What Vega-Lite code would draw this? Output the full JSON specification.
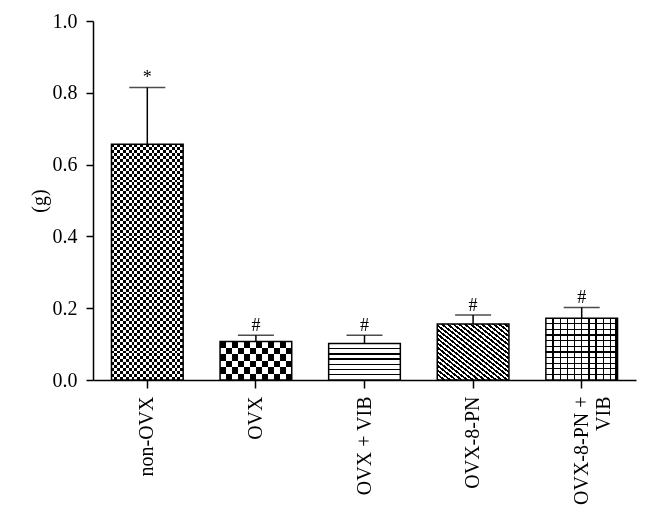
{
  "$schema": "https://vega.github.io/schema/vega-lite/v6.json",
  "width": 543,
  "height": 359,
  "autosize": {"type": "none"},
  "padding": {"left": 93, "top": 21, "right": 14, "bottom": 146},
  "background": "white",
  "data": {"values": [
    {"group": "non-OVX", "value": 0.657, "err": 0.815, "sig": "*"},
    {"group": "OVX", "value": 0.107, "err": 0.125, "sig": "#"},
    {"group": "OVX + VIB", "value": 0.102, "err": 0.125, "sig": "#"},
    {"group": "OVX-8-PN", "value": 0.156, "err": 0.181, "sig": "#"},
    {"group": "OVX-8-PN + VIB", "value": 0.172, "err": 0.202, "sig": "#"}
  ]},
  "encoding": {
    "x": {
      "field": "group", "type": "nominal", "sort": null,
      "scale": {"paddingInner": 0.34, "paddingOuter": 0.17},
      "axis": {
        "title": null, "labelAngle": -90, "labelPadding": 8, "labelLineHeight": 22, "tickSize": 8,
        "labelExpr": "datum.value == 'OVX-8-PN + VIB' ? ['OVX-8-PN +', 'VIB'] : datum.value"
      }
    }
  },
  "layer": [
    {
      "transform": [{"filter": "datum.group === 'non-OVX'"}],
      "mark": {"type": "bar", "fill": {"gradient": "linear", "x1": 0, "y1": 0, "x2": 1, "y2": 0, "stops": [
        {"offset":0,"color":"black"},{"offset":0.04,"color":"black"},{"offset":0.04,"color":"white"},{"offset":0.08,"color":"white"},
        {"offset":0.08,"color":"black"},{"offset":0.12,"color":"black"},{"offset":0.12,"color":"white"},{"offset":0.16,"color":"white"},
        {"offset":0.16,"color":"black"},{"offset":0.2,"color":"black"},{"offset":0.2,"color":"white"},{"offset":0.24,"color":"white"},
        {"offset":0.24,"color":"black"},{"offset":0.28,"color":"black"},{"offset":0.28,"color":"white"},{"offset":0.32,"color":"white"},
        {"offset":0.32,"color":"black"},{"offset":0.36,"color":"black"},{"offset":0.36,"color":"white"},{"offset":0.4,"color":"white"},
        {"offset":0.4,"color":"black"},{"offset":0.44,"color":"black"},{"offset":0.44,"color":"white"},{"offset":0.48,"color":"white"},
        {"offset":0.48,"color":"black"},{"offset":0.52,"color":"black"},{"offset":0.52,"color":"white"},{"offset":0.56,"color":"white"},
        {"offset":0.56,"color":"black"},{"offset":0.6,"color":"black"},{"offset":0.6,"color":"white"},{"offset":0.64,"color":"white"},
        {"offset":0.64,"color":"black"},{"offset":0.68,"color":"black"},{"offset":0.68,"color":"white"},{"offset":0.72,"color":"white"},
        {"offset":0.72,"color":"black"},{"offset":0.76,"color":"black"},{"offset":0.76,"color":"white"},{"offset":0.8,"color":"white"},
        {"offset":0.8,"color":"black"},{"offset":0.84,"color":"black"},{"offset":0.84,"color":"white"},{"offset":0.88,"color":"white"},
        {"offset":0.88,"color":"black"},{"offset":0.92,"color":"black"},{"offset":0.92,"color":"white"},{"offset":0.96,"color":"white"},
        {"offset":0.96,"color":"black"},{"offset":1,"color":"black"}
      ]}},
      "encoding": {"y": {"field": "value", "type": "quantitative"}}
    },
    {
      "transform": [{"filter": "datum.group === 'non-OVX'"}],
      "mark": {"type": "bar", "blend": "difference", "fill": {"gradient": "linear", "x1": 0, "y1": 0, "x2": 0, "y2": 1, "stops": [
        {"offset":0,"color":"transparent"},
        {"offset":0.0125,"color":"transparent"},{"offset":0.0125,"color":"white"},{"offset":0.025,"color":"white"},{"offset":0.025,"color":"transparent"},
        {"offset":0.0375,"color":"transparent"},{"offset":0.0375,"color":"white"},{"offset":0.05,"color":"white"},{"offset":0.05,"color":"transparent"},
        {"offset":0.0625,"color":"transparent"},{"offset":0.0625,"color":"white"},{"offset":0.075,"color":"white"},{"offset":0.075,"color":"transparent"},
        {"offset":0.0875,"color":"transparent"},{"offset":0.0875,"color":"white"},{"offset":0.1,"color":"white"},{"offset":0.1,"color":"transparent"},
        {"offset":0.1125,"color":"transparent"},{"offset":0.1125,"color":"white"},{"offset":0.125,"color":"white"},{"offset":0.125,"color":"transparent"},
        {"offset":0.1375,"color":"transparent"},{"offset":0.1375,"color":"white"},{"offset":0.15,"color":"white"},{"offset":0.15,"color":"transparent"},
        {"offset":0.1625,"color":"transparent"},{"offset":0.1625,"color":"white"},{"offset":0.175,"color":"white"},{"offset":0.175,"color":"transparent"},
        {"offset":0.1875,"color":"transparent"},{"offset":0.1875,"color":"white"},{"offset":0.2,"color":"white"},{"offset":0.2,"color":"transparent"},
        {"offset":0.2125,"color":"transparent"},{"offset":0.2125,"color":"white"},{"offset":0.225,"color":"white"},{"offset":0.225,"color":"transparent"},
        {"offset":0.2375,"color":"transparent"},{"offset":0.2375,"color":"white"},{"offset":0.25,"color":"white"},{"offset":0.25,"color":"transparent"},
        {"offset":0.2625,"color":"transparent"},{"offset":0.2625,"color":"white"},{"offset":0.275,"color":"white"},{"offset":0.275,"color":"transparent"},
        {"offset":0.2875,"color":"transparent"},{"offset":0.2875,"color":"white"},{"offset":0.3,"color":"white"},{"offset":0.3,"color":"transparent"},
        {"offset":0.3125,"color":"transparent"},{"offset":0.3125,"color":"white"},{"offset":0.325,"color":"white"},{"offset":0.325,"color":"transparent"},
        {"offset":0.3375,"color":"transparent"},{"offset":0.3375,"color":"white"},{"offset":0.35,"color":"white"},{"offset":0.35,"color":"transparent"},
        {"offset":0.3625,"color":"transparent"},{"offset":0.3625,"color":"white"},{"offset":0.375,"color":"white"},{"offset":0.375,"color":"transparent"},
        {"offset":0.3875,"color":"transparent"},{"offset":0.3875,"color":"white"},{"offset":0.4,"color":"white"},{"offset":0.4,"color":"transparent"},
        {"offset":0.4125,"color":"transparent"},{"offset":0.4125,"color":"white"},{"offset":0.425,"color":"white"},{"offset":0.425,"color":"transparent"},
        {"offset":0.4375,"color":"transparent"},{"offset":0.4375,"color":"white"},{"offset":0.45,"color":"white"},{"offset":0.45,"color":"transparent"},
        {"offset":0.4625,"color":"transparent"},{"offset":0.4625,"color":"white"},{"offset":0.475,"color":"white"},{"offset":0.475,"color":"transparent"},
        {"offset":0.4875,"color":"transparent"},{"offset":0.4875,"color":"white"},{"offset":0.5,"color":"white"},{"offset":0.5,"color":"transparent"},
        {"offset":0.5125,"color":"transparent"},{"offset":0.5125,"color":"white"},{"offset":0.525,"color":"white"},{"offset":0.525,"color":"transparent"},
        {"offset":0.5375,"color":"transparent"},{"offset":0.5375,"color":"white"},{"offset":0.55,"color":"white"},{"offset":0.55,"color":"transparent"},
        {"offset":0.5625,"color":"transparent"},{"offset":0.5625,"color":"white"},{"offset":0.575,"color":"white"},{"offset":0.575,"color":"transparent"},
        {"offset":0.5875,"color":"transparent"},{"offset":0.5875,"color":"white"},{"offset":0.6,"color":"white"},{"offset":0.6,"color":"transparent"},
        {"offset":0.6125,"color":"transparent"},{"offset":0.6125,"color":"white"},{"offset":0.625,"color":"white"},{"offset":0.625,"color":"transparent"},
        {"offset":0.6375,"color":"transparent"},{"offset":0.6375,"color":"white"},{"offset":0.65,"color":"white"},{"offset":0.65,"color":"transparent"},
        {"offset":0.6625,"color":"transparent"},{"offset":0.6625,"color":"white"},{"offset":0.675,"color":"white"},{"offset":0.675,"color":"transparent"},
        {"offset":0.6875,"color":"transparent"},{"offset":0.6875,"color":"white"},{"offset":0.7,"color":"white"},{"offset":0.7,"color":"transparent"},
        {"offset":0.7125,"color":"transparent"},{"offset":0.7125,"color":"white"},{"offset":0.725,"color":"white"},{"offset":0.725,"color":"transparent"},
        {"offset":0.7375,"color":"transparent"},{"offset":0.7375,"color":"white"},{"offset":0.75,"color":"white"},{"offset":0.75,"color":"transparent"},
        {"offset":0.7625,"color":"transparent"},{"offset":0.7625,"color":"white"},{"offset":0.775,"color":"white"},{"offset":0.775,"color":"transparent"},
        {"offset":0.7875,"color":"transparent"},{"offset":0.7875,"color":"white"},{"offset":0.8,"color":"white"},{"offset":0.8,"color":"transparent"},
        {"offset":0.8125,"color":"transparent"},{"offset":0.8125,"color":"white"},{"offset":0.825,"color":"white"},{"offset":0.825,"color":"transparent"},
        {"offset":0.8375,"color":"transparent"},{"offset":0.8375,"color":"white"},{"offset":0.85,"color":"white"},{"offset":0.85,"color":"transparent"},
        {"offset":0.8625,"color":"transparent"},{"offset":0.8625,"color":"white"},{"offset":0.875,"color":"white"},{"offset":0.875,"color":"transparent"},
        {"offset":0.8875,"color":"transparent"},{"offset":0.8875,"color":"white"},{"offset":0.9,"color":"white"},{"offset":0.9,"color":"transparent"},
        {"offset":0.9125,"color":"transparent"},{"offset":0.9125,"color":"white"},{"offset":0.925,"color":"white"},{"offset":0.925,"color":"transparent"},
        {"offset":0.9375,"color":"transparent"},{"offset":0.9375,"color":"white"},{"offset":0.95,"color":"white"},{"offset":0.95,"color":"transparent"},
        {"offset":0.9625,"color":"transparent"},{"offset":0.9625,"color":"white"},{"offset":0.975,"color":"white"},{"offset":0.975,"color":"transparent"},
        {"offset":0.9875,"color":"transparent"},{"offset":0.9875,"color":"white"},{"offset":1,"color":"white"}
      ]}},
      "encoding": {"y": {"field": "value", "type": "quantitative"}}
    },
    {
      "transform": [{"filter": "datum.group === 'OVX'"}],
      "mark": {"type": "bar", "fill": {"gradient": "linear", "x1": 0, "y1": 0, "x2": 1, "y2": 0, "stops": [
        {"offset":0,"color":"black"},{"offset":0.0833,"color":"black"},{"offset":0.0833,"color":"white"},{"offset":0.1667,"color":"white"},
        {"offset":0.1667,"color":"black"},{"offset":0.25,"color":"black"},{"offset":0.25,"color":"white"},{"offset":0.3333,"color":"white"},
        {"offset":0.3333,"color":"black"},{"offset":0.4167,"color":"black"},{"offset":0.4167,"color":"white"},{"offset":0.5,"color":"white"},
        {"offset":0.5,"color":"black"},{"offset":0.5833,"color":"black"},{"offset":0.5833,"color":"white"},{"offset":0.6667,"color":"white"},
        {"offset":0.6667,"color":"black"},{"offset":0.75,"color":"black"},{"offset":0.75,"color":"white"},{"offset":0.8333,"color":"white"},
        {"offset":0.8333,"color":"black"},{"offset":0.9167,"color":"black"},{"offset":0.9167,"color":"white"},{"offset":1,"color":"white"}
      ]}},
      "encoding": {"y": {"field": "value", "type": "quantitative"}}
    },
    {
      "transform": [{"filter": "datum.group === 'OVX'"}],
      "mark": {"type": "bar", "blend": "difference", "fill": {"gradient": "linear", "x1": 0, "y1": 0, "x2": 0, "y2": 1, "stops": [
        {"offset":0,"color":"transparent"},{"offset":0.1667,"color":"transparent"},{"offset":0.1667,"color":"white"},{"offset":0.3333,"color":"white"},
        {"offset":0.3333,"color":"transparent"},{"offset":0.5,"color":"transparent"},{"offset":0.5,"color":"white"},{"offset":0.6667,"color":"white"},
        {"offset":0.6667,"color":"transparent"},{"offset":0.8333,"color":"transparent"},{"offset":0.8333,"color":"white"},{"offset":1,"color":"white"}
      ]}},
      "encoding": {"y": {"field": "value", "type": "quantitative"}}
    },
    {
      "transform": [{"filter": "datum.group === 'OVX + VIB'"}],
      "mark": {"type": "bar", "fill": {"gradient": "linear", "x1": 0, "y1": 0, "x2": 0, "y2": 1, "stops": [
        {"offset":0,"color":"white"},{"offset":0.125,"color":"white"},{"offset":0.125,"color":"black"},{"offset":0.161,"color":"black"},
        {"offset":0.161,"color":"white"},{"offset":0.268,"color":"white"},{"offset":0.268,"color":"black"},{"offset":0.304,"color":"black"},
        {"offset":0.304,"color":"white"},{"offset":0.411,"color":"white"},{"offset":0.411,"color":"black"},{"offset":0.447,"color":"black"},
        {"offset":0.447,"color":"white"},{"offset":0.554,"color":"white"},{"offset":0.554,"color":"black"},{"offset":0.589,"color":"black"},
        {"offset":0.589,"color":"white"},{"offset":0.696,"color":"white"},{"offset":0.696,"color":"black"},{"offset":0.732,"color":"black"},
        {"offset":0.732,"color":"white"},{"offset":0.839,"color":"white"},{"offset":0.839,"color":"black"},{"offset":0.875,"color":"black"},
        {"offset":0.875,"color":"white"},{"offset":1,"color":"white"}
      ]}},
      "encoding": {"y": {"field": "value", "type": "quantitative"}}
    },
    {
      "transform": [{"filter": "datum.group === 'OVX-8-PN'"}],
      "mark": {"type": "bar", "fill": {"gradient": "linear", "x1": 0, "y1": 1, "x2": 1, "y2": 0, "stops": [
        {"offset":0,"color":"black"},{"offset":0.02,"color":"black"},{"offset":0.02,"color":"white"},{"offset":0.04,"color":"white"},
        {"offset":0.04,"color":"black"},{"offset":0.06,"color":"black"},{"offset":0.06,"color":"white"},{"offset":0.08,"color":"white"},
        {"offset":0.08,"color":"black"},{"offset":0.1,"color":"black"},{"offset":0.1,"color":"white"},{"offset":0.12,"color":"white"},
        {"offset":0.12,"color":"black"},{"offset":0.14,"color":"black"},{"offset":0.14,"color":"white"},{"offset":0.16,"color":"white"},
        {"offset":0.16,"color":"black"},{"offset":0.18,"color":"black"},{"offset":0.18,"color":"white"},{"offset":0.2,"color":"white"},
        {"offset":0.2,"color":"black"},{"offset":0.22,"color":"black"},{"offset":0.22,"color":"white"},{"offset":0.24,"color":"white"},
        {"offset":0.24,"color":"black"},{"offset":0.26,"color":"black"},{"offset":0.26,"color":"white"},{"offset":0.28,"color":"white"},
        {"offset":0.28,"color":"black"},{"offset":0.3,"color":"black"},{"offset":0.3,"color":"white"},{"offset":0.32,"color":"white"},
        {"offset":0.32,"color":"black"},{"offset":0.34,"color":"black"},{"offset":0.34,"color":"white"},{"offset":0.36,"color":"white"},
        {"offset":0.36,"color":"black"},{"offset":0.38,"color":"black"},{"offset":0.38,"color":"white"},{"offset":0.4,"color":"white"},
        {"offset":0.4,"color":"black"},{"offset":0.42,"color":"black"},{"offset":0.42,"color":"white"},{"offset":0.44,"color":"white"},
        {"offset":0.44,"color":"black"},{"offset":0.46,"color":"black"},{"offset":0.46,"color":"white"},{"offset":0.48,"color":"white"},
        {"offset":0.48,"color":"black"},{"offset":0.5,"color":"black"},{"offset":0.5,"color":"white"},{"offset":0.52,"color":"white"},
        {"offset":0.52,"color":"black"},{"offset":0.54,"color":"black"},{"offset":0.54,"color":"white"},{"offset":0.56,"color":"white"},
        {"offset":0.56,"color":"black"},{"offset":0.58,"color":"black"},{"offset":0.58,"color":"white"},{"offset":0.6,"color":"white"},
        {"offset":0.6,"color":"black"},{"offset":0.62,"color":"black"},{"offset":0.62,"color":"white"},{"offset":0.64,"color":"white"},
        {"offset":0.64,"color":"black"},{"offset":0.66,"color":"black"},{"offset":0.66,"color":"white"},{"offset":0.68,"color":"white"},
        {"offset":0.68,"color":"black"},{"offset":0.7,"color":"black"},{"offset":0.7,"color":"white"},{"offset":0.72,"color":"white"},
        {"offset":0.72,"color":"black"},{"offset":0.74,"color":"black"},{"offset":0.74,"color":"white"},{"offset":0.76,"color":"white"},
        {"offset":0.76,"color":"black"},{"offset":0.78,"color":"black"},{"offset":0.78,"color":"white"},{"offset":0.8,"color":"white"},
        {"offset":0.8,"color":"black"},{"offset":0.82,"color":"black"},{"offset":0.82,"color":"white"},{"offset":0.84,"color":"white"},
        {"offset":0.84,"color":"black"},{"offset":0.86,"color":"black"},{"offset":0.86,"color":"white"},{"offset":0.88,"color":"white"},
        {"offset":0.88,"color":"black"},{"offset":0.9,"color":"black"},{"offset":0.9,"color":"white"},{"offset":0.92,"color":"white"},
        {"offset":0.92,"color":"black"},{"offset":0.94,"color":"black"},{"offset":0.94,"color":"white"},{"offset":0.96,"color":"white"},
        {"offset":0.96,"color":"black"},{"offset":0.98,"color":"black"},{"offset":0.98,"color":"white"},{"offset":1,"color":"white"}
      ]}},
      "encoding": {"y": {"field": "value", "type": "quantitative"}}
    },
    {
      "transform": [{"filter": "datum.group === 'OVX-8-PN + VIB'"}],
      "mark": {"type": "bar", "fill": {"gradient": "linear", "x1": 0, "y1": 0, "x2": 1, "y2": 0, "stops": [
        {"offset":0,"color":"white"},{"offset":0.091,"color":"white"},{"offset":0.091,"color":"black"},{"offset":0.109,"color":"black"},
        {"offset":0.109,"color":"white"},{"offset":0.191,"color":"white"},{"offset":0.191,"color":"black"},{"offset":0.209,"color":"black"},
        {"offset":0.209,"color":"white"},{"offset":0.291,"color":"white"},{"offset":0.291,"color":"black"},{"offset":0.309,"color":"black"},
        {"offset":0.309,"color":"white"},{"offset":0.391,"color":"white"},{"offset":0.391,"color":"black"},{"offset":0.409,"color":"black"},
        {"offset":0.409,"color":"white"},{"offset":0.491,"color":"white"},{"offset":0.491,"color":"black"},{"offset":0.509,"color":"black"},
        {"offset":0.509,"color":"white"},{"offset":0.591,"color":"white"},{"offset":0.591,"color":"black"},{"offset":0.609,"color":"black"},
        {"offset":0.609,"color":"white"},{"offset":0.691,"color":"white"},{"offset":0.691,"color":"black"},{"offset":0.709,"color":"black"},
        {"offset":0.709,"color":"white"},{"offset":0.791,"color":"white"},{"offset":0.791,"color":"black"},{"offset":0.809,"color":"black"},
        {"offset":0.809,"color":"white"},{"offset":0.891,"color":"white"},{"offset":0.891,"color":"black"},{"offset":0.909,"color":"black"},
        {"offset":0.909,"color":"white"},{"offset":0.97,"color":"white"},{"offset":0.97,"color":"black"},{"offset":1,"color":"black"}
      ]}},
      "encoding": {"y": {"field": "value", "type": "quantitative"}}
    },
    {
      "transform": [{"filter": "datum.group === 'OVX-8-PN + VIB'"}],
      "mark": {"type": "bar", "fill": {"gradient": "linear", "x1": 0, "y1": 0, "x2": 0, "y2": 1, "stops": [
        {"offset":0,"color":"transparent"},{"offset":0.081,"color":"transparent"},{"offset":0.081,"color":"black"},{"offset":0.101,"color":"black"},
        {"offset":0.101,"color":"transparent"},{"offset":0.172,"color":"transparent"},{"offset":0.172,"color":"black"},{"offset":0.192,"color":"black"},
        {"offset":0.192,"color":"transparent"},{"offset":0.263,"color":"transparent"},{"offset":0.263,"color":"black"},{"offset":0.283,"color":"black"},
        {"offset":0.283,"color":"transparent"},{"offset":0.354,"color":"transparent"},{"offset":0.354,"color":"black"},{"offset":0.374,"color":"black"},
        {"offset":0.374,"color":"transparent"},{"offset":0.445,"color":"transparent"},{"offset":0.445,"color":"black"},{"offset":0.465,"color":"black"},
        {"offset":0.465,"color":"transparent"},{"offset":0.535,"color":"transparent"},{"offset":0.535,"color":"black"},{"offset":0.555,"color":"black"},
        {"offset":0.555,"color":"transparent"},{"offset":0.626,"color":"transparent"},{"offset":0.626,"color":"black"},{"offset":0.646,"color":"black"},
        {"offset":0.646,"color":"transparent"},{"offset":0.717,"color":"transparent"},{"offset":0.717,"color":"black"},{"offset":0.737,"color":"black"},
        {"offset":0.737,"color":"transparent"},{"offset":0.808,"color":"transparent"},{"offset":0.808,"color":"black"},{"offset":0.828,"color":"black"},
        {"offset":0.828,"color":"transparent"},{"offset":0.899,"color":"transparent"},{"offset":0.899,"color":"black"},{"offset":0.919,"color":"black"},
        {"offset":0.919,"color":"transparent"},{"offset":1,"color":"transparent"}
      ]}},
      "encoding": {"y": {"field": "value", "type": "quantitative"}}
    },
    {
      "mark": {"type": "bar", "fill": "transparent", "stroke": "black", "strokeWidth": 1.5},
      "encoding": {"y": {"field": "value", "type": "quantitative", "scale": {"domain": [0, 1], "nice": false},
        "axis": {"title": "(g)", "values": [0, 0.2, 0.4, 0.6, 0.8, 1.0], "format": ".1f", "labelPadding": 9, "tickSize": 7, "titlePadding": 3}}}
    },
    {
      "mark": {"type": "rule", "color": "black", "strokeWidth": 1.5},
      "encoding": {"y": {"field": "value", "type": "quantitative"}, "y2": {"field": "err"}}
    },
    {
      "mark": {"type": "tick", "color": "black", "thickness": 1.5},
      "encoding": {"y": {"field": "err", "type": "quantitative"}, "size": {"value": 36}}
    },
    {
      "mark": {"type": "text", "font": "Liberation Serif", "fontSize": 18, "baseline": "alphabetic", "dy": -4, "color": "black"},
      "encoding": {"y": {"field": "err", "type": "quantitative"}, "text": {"field": "sig"}}
    }
  ],
  "config": {
    "view": {"stroke": null},
    "axis": {
      "labelFont": "Liberation Serif", "titleFont": "Liberation Serif",
      "labelFontSize": 20, "titleFontSize": 20, "titleFontWeight": "normal",
      "labelColor": "black", "titleColor": "black",
      "domainColor": "black", "tickColor": "black",
      "domainWidth": 1.5, "tickWidth": 1.5, "grid": false
    }
  }
}
